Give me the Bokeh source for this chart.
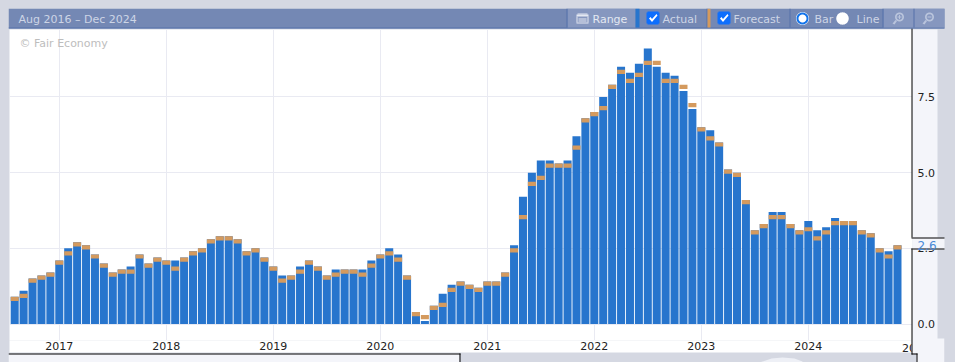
import numpy as np
from bokeh.document import Document
from bokeh.embed import file_html
from bokeh.events import DocumentReady
from bokeh.models import (BoxAnnotation, ColumnDataSource, CustomJS, FixedTicker, Label,
                          PolyAnnotation, Range1d)
from bokeh.plotting import figure
from bokeh.resources import INLINE

# Monthly values, Aug 2016 to Nov 2024
actual = [0.9, 1.1, 1.5, 1.6, 1.7, 2.1, 2.5, 2.7, 2.6, 2.3, 2.0, 1.7,
          1.8, 1.9, 2.3, 2.0, 2.2, 2.1, 2.1, 2.2, 2.4, 2.5, 2.8, 2.9,
          2.9, 2.8, 2.4, 2.5, 2.2, 1.9, 1.6, 1.6, 1.9, 2.1, 1.9, 1.6,
          1.8, 1.8, 1.8, 1.8, 2.1, 2.3, 2.5, 2.3, 1.6, 0.4, 0.1, 0.6,
          1.0, 1.3, 1.4, 1.3, 1.2, 1.4, 1.4, 1.7, 2.6, 4.2, 5.0, 5.4,
          5.4, 5.3, 5.4, 6.2, 6.8, 7.0, 7.5, 7.9, 8.5, 8.3, 8.6, 9.1,
          8.5, 8.3, 8.2, 7.7, 7.1, 6.5, 6.4, 6.0, 5.1, 5.0, 4.1, 3.1,
          3.3, 3.7, 3.7, 3.3, 3.1, 3.4, 3.1, 3.2, 3.5, 3.4, 3.4, 3.1,
          3.0, 2.5, 2.4, 2.6]
forecast = [0.9, 1.0, 1.5, 1.6, 1.7, 2.1, 2.4, 2.7, 2.6, 2.3, 2.0, 1.7,
            1.8, 1.8, 2.3, 2.0, 2.2, 2.1, 1.9, 2.2, 2.4, 2.5, 2.8, 2.9,
            2.9, 2.8, 2.4, 2.5, 2.2, 1.9, 1.5, 1.6, 1.8, 2.1, 1.9, 1.6,
            1.7, 1.8, 1.8, 1.7, 2.0, 2.3, 2.4, 2.2, 1.6, 0.4, 0.3, 0.6,
            0.7, 1.2, 1.4, 1.3, 1.2, 1.4, 1.4, 1.7, 2.5, 3.6, 4.7, 4.9,
            5.3, 5.3, 5.3, 5.9, 6.8, 7.0, 7.2, 7.9, 8.4, 8.1, 8.3, 8.7,
            8.7, 8.1, 8.1, 7.9, 7.3, 6.5, 6.2, 6.0, 5.1, 5.0, 4.1, 3.1,
            3.3, 3.6, 3.6, 3.3, 3.1, 3.2, 2.9, 3.1, 3.4, 3.4, 3.4, 3.1,
            3.0, 2.5, 2.3, 2.6]
year_ticks = [5, 17, 29, 41, 53, 65, 77, 89]
year_labels = ["2017", "2018", "2019", "2020", "2021", "2022", "2023", "2024"]
y_ticks = [0, 2.5, 5, 7.5]
y_labels = ["0.0", "2.5", "5.0", "7.5"]
title = "Aug 2016 – Dec 2024"
latest = "2.6"

BAR = "#2775cd"
ORANGE = "#d49a5e"
TOOL = "#7488b4"
BTN = "#8697bf"
EDGE = "#5571a9"
GRID = "#e9eaf2"
PANEL = "#f4f5fa"
OUTER = "#d5d8e2"
TXT = "#cdd5e6"
CHECK = "#0d6efd"
FONT = "DejaVu Sans"

idx = list(range(len(actual)))
src = ColumnDataSource(dict(x=idx, a=actual, f=forecast,
                            fb=[v - 0.14 for v in forecast],
                            l=[i - 0.45 for i in idx], r=[i + 0.45 for i in idx]))

PX0, PXS = 14.2, 8.917          # page px of month 0, px per month
PY0, PYS = 323.5, 30.27         # page px of value 0, px per unit
p = figure(width=939, height=354, output_backend="svg", toolbar_location=None,
           x_range=Range1d((9 - PX0) / PXS, (912 - PX0) / PXS),
           y_range=Range1d((PY0 - 340) / PYS, (PY0 - 29) / PYS),
           x_axis_location="below", y_axis_location="right",
           min_border_left=1, min_border_right=35, min_border_top=21, min_border_bottom=22,
           background_fill_color="white", border_fill_color=OUTER)
p.outline_line_color = None

p.xgrid.ticker = FixedTicker(ticks=year_ticks)
p.ygrid.ticker = FixedTicker(ticks=y_ticks)
p.xgrid.grid_line_color = GRID
p.ygrid.grid_line_color = GRID
p.xgrid.grid_line_width = 1
p.ygrid.grid_line_width = 1

for ax, ticks, labels in ((p.xaxis[0], year_ticks, year_labels), (p.yaxis[0], y_ticks, y_labels)):
    ax.ticker = FixedTicker(ticks=ticks)
    ax.major_label_overrides = dict(zip(ticks, labels))
    ax.axis_line_color = None
    ax.major_tick_line_color = None
    ax.minor_tick_line_color = None
    ax.major_tick_out = 0
    ax.major_tick_in = 0
    ax.minor_tick_out = 0
    ax.major_label_text_font = FONT
    ax.major_label_text_font_size = "11px"
    ax.major_label_text_color = "#222222"
p.xaxis[0].major_label_standoff = 1
p.yaxis[0].major_label_standoff = 5
p.xaxis[0].background_fill_color = "white"
p.yaxis[0].background_fill_color = PANEL

p.vbar(x="x", top="a", bottom=0, width=0.9, source=src, color=BAR, line_alpha=0)
p.quad(left="l", right="r", top="f", bottom="fb", source=src, color=ORANGE, line_alpha=0)

# transparent sheet over the chart, holding the toolbar and panel furniture
o = figure(width=939, height=354, output_backend="svg", toolbar_location=None,
           x_axis_type=None, y_axis_type=None, margin=(-354, 0, 0, 0),
           x_range=Range1d(0, 1), y_range=Range1d(0, 1),
           min_border=0, min_border_left=0, min_border_right=0, min_border_top=0, min_border_bottom=0,
           background_fill_alpha=0, border_fill_alpha=0)
o.outline_line_color = None
o.grid.visible = False

OFF = 10  # page px to sheet px for filled shapes


def box(l, t, r, b, color):
    o.add_layout(BoxAnnotation(left=l - OFF, right=r - OFF, top=t - OFF, bottom=b - OFF,
                               left_units="canvas", right_units="canvas",
                               top_units="canvas", bottom_units="canvas",
                               fill_color=color, fill_alpha=1, line_alpha=0,
                               editable=False))


def poly(xs, ys, color):
    o.add_layout(PolyAnnotation(xs=[x - OFF for x in xs], ys=[y - OFF for y in ys],
                                xs_units="canvas", ys_units="canvas",
                                fill_color=color, fill_alpha=1, line_alpha=0))


def circle(cx, cy, r, color):
    t = np.linspace(0, 2 * np.pi, 40, endpoint=False)
    poly(list(cx + r * np.cos(t)), list(cy + r * np.sin(t)), color)


def text(x, y, s, color=TXT, size="11px", align="left"):
    o.add_layout(Label(x=x - 8, y=y - 8, x_units="canvas", y_units="canvas", text=s,
                       text_color=color, text_font=FONT, text_font_size=size,
                       text_align=align, text_baseline="middle"))


# surrounding panels
text(901.6, 347, "20", color="#222222")
box(913, 340, 946, 366, PANEL)
box(946, 8, 949, 366, OUTER)
box(10, 355, 461, 366, PANEL)
box(461, 355, 918, 366, OUTER)
box(10, 10, 946, 30, TOOL)

# navigator hill
poly([761, 773, 784, 796, 804, 804, 761], [364, 360, 359, 360, 363, 366, 366], "#eef0f6")

# frame lines
box(913, 30, 914, 239, "black")
box(913, 250, 914, 356, "black")
box(913, 355, 919, 356, "black")
box(918, 355, 919, 366, "black")
box(10, 355, 462, 356, "black")
box(461, 355, 462, 366, "black")
box(914, 239, 946, 251, PANEL)
box(913, 239, 946, 240, "black")
box(913, 250, 946, 251, "black")
text(917, 244.5, latest, color="#4a8ad8", size="12px")

# toolbar
box(10, 29, 946, 30, EDGE)
text(18, 19, title)
text(19, 42.5, "© Fair Economy", color="#bdbdbd")

box(569, 10, 637, 29, BTN)
box(568, 10, 569, 29, EDGE)
box(637, 10, 641, 29, BAR)
box(708, 10, 709, 29, EDGE)
box(709, 10, 712, 29, ORANGE)
box(791, 10, 792, 29, EDGE)
box(885, 10, 946, 29, BTN)
box(884, 10, 885, 29, EDGE)
box(915, 10, 916, 29, EDGE)
text(592, 19, "Range", color="#e3e8f2")
text(662, 19, "Actual")
text(733, 19, "Forecast")
text(814, 19, "Bar")
text(856, 19, "Line")

# calendar icon
box(579, 15, 589, 16, "#e3e8f2")
box(578, 16, 590, 18, "#e3e8f2")
box(578, 18, 579, 24, "#e3e8f2")
box(589, 18, 590, 24, "#e3e8f2")
box(578, 24, 590, 25, "#e3e8f2")
box(580, 20, 588, 21, "#e3e8f2")
box(580, 22, 588, 23, "#e3e8f2")

# check boxes
for x0 in (648, 719):
    box(x0 + 1, 13, x0 + 12, 26, CHECK)
    box(x0, 14, x0 + 13, 25, CHECK)
    poly([x0 + 2.5, x0 + 4, x0 + 5.5, x0 + 10, x0 + 11, x0 + 5.5],
         [20, 18.5, 20.5, 15.5, 17, 23.5], "white")

# radios
circle(804, 20, 6.5, "white")
circle(804, 20, 6, "#1273ea")
circle(804, 20, 4, "white")
circle(844, 20, 6.2, "white")

# zoom buttons
for cx in (900, 930):
    c = "#b9c4dc"
    circle(cx + 1, 18.5, 4.5, c)
    circle(cx + 1, 18.5, 2.8, BTN)
    poly([cx - 6, cx - 4, cx - 1.5, cx - 3], [25, 26, 22.5, 21.5], c)
box(899, 18, 903, 19, "#b9c4dc")
box(900.5, 16.5, 901.5, 20.5, "#b9c4dc")
box(929, 18, 933, 19, "#b9c4dc")

doc = Document()
doc.add_root(p)
doc.add_root(o)
doc.js_on_event(DocumentReady, CustomJS(code="""
document.documentElement.style.background = '#d5d8e2';
document.body.style.background = '#d5d8e2';
document.body.style.margin = '8px 8px 0 8px';
document.documentElement.style.overflow = 'hidden';
"""))
open("out.html", "w").write(file_html(doc, INLINE))
